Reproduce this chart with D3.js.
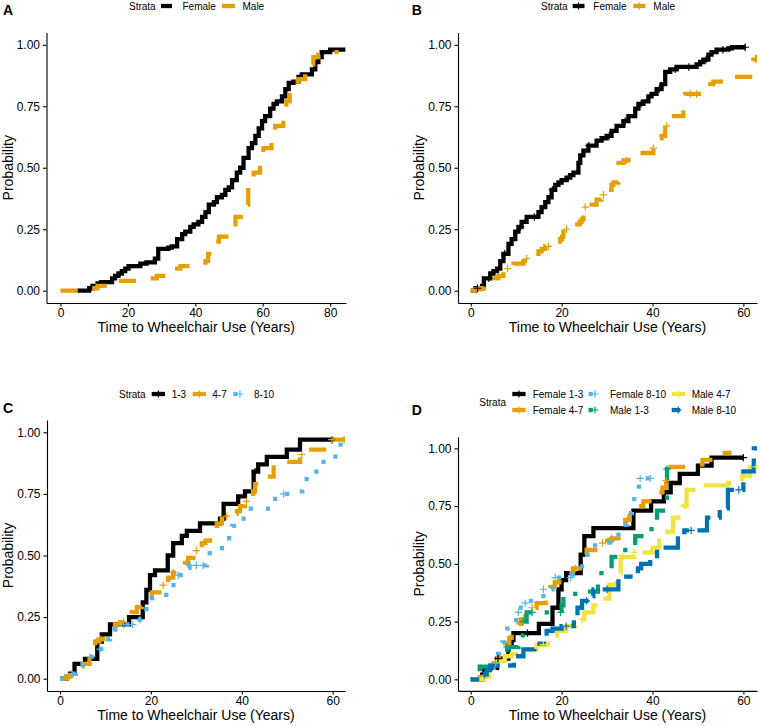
<!DOCTYPE html>
<html><head><meta charset="utf-8">
<script src="https://cdn.jsdelivr.net/npm/d3@7"></script>
<style>
body{margin:0;background:#fff}
svg{display:block}
text{font-family:"Liberation Sans",Arial,Helvetica,sans-serif}
</style>
</head><body>
<svg id="chart" width="760" height="726"></svg>
<script>
// ---------- DATA ----------
const yTicks = [0, 0.25, 0.5, 0.75, 1];
const xTicksA = [0, 20, 40, 60, 80];
const xTicksBCD = [0, 20, 40, 60];

// Panel A
const aFemaleT = [5,8.5,9.5,11,12,15.3,16.2,17.2,18.2,19.2,20.2,23.7,25.5,28,29,32,33,34.6,36.1,37,38.5,39.5,40.9,42,43,44,45.5,46.4,47.9,48.9,49.9,50.9,52.3,53.3,54.3,55.8,56.8,57.8,58.8,59.8,60.7,62.2,63.2,64.2,65.7,66.7,67.7,69.1,70.6,71.6,74.6,75.6,76.5,77.5,80,84.5];
const aFemaleP = [0,0.01,0.02,0.03,0.035,0.05,0.06,0.07,0.08,0.09,0.10,0.11,0.115,0.13,0.17,0.175,0.18,0.21,0.23,0.24,0.26,0.27,0.28,0.30,0.32,0.35,0.36,0.38,0.39,0.41,0.42,0.45,0.48,0.50,0.54,0.58,0.60,0.63,0.66,0.69,0.71,0.74,0.76,0.77,0.79,0.82,0.845,0.85,0.87,0.88,0.90,0.93,0.95,0.97,0.98,0.98];
const aMaleT = [0,9,11,14.8,25.7,28.6,32.6,35.6,43,43.8,46,47,50.2,51.9,54.2,55.7,57.3,59.2,60.2,62.6,63.7,66.1,67,68,69,70.5,72.6,73.6,75,76.5,78,82.5];
const aMaleP = [0,0.01,0.02,0.04,0.05,0.06,0.09,0.10,0.12,0.15,0.20,0.22,0.26,0.30,0.35,0.45,0.48,0.55,0.58,0.63,0.67,0.72,0.77,0.83,0.85,0.86,0.89,0.92,0.95,0.96,0.97,0.97];

// Panel B
const bFemaleT = [0,1,2.5,2.9,4.3,5,5.8,6.5,7.2,8.3,9,9.8,10.5,11.2,12.3,14.9,15.6,16.4,17.1,17.8,18.6,19.3,20,21.1,21.9,22.6,23.7,24.1,24.8,25.9,27.7,28.8,29.9,31,32.1,33.6,34.7,36.2,36.9,38,39.1,39.8,40.9,42,42.8,43.9,45.3,49.7,50.5,51.2,52.3,53,54.1,56.7,57.5,60.4];
const bFemaleP = [0,0.01,0.02,0.05,0.07,0.08,0.09,0.12,0.15,0.19,0.21,0.24,0.26,0.28,0.30,0.32,0.34,0.36,0.38,0.41,0.43,0.44,0.45,0.46,0.47,0.48,0.52,0.55,0.57,0.59,0.61,0.62,0.63,0.65,0.67,0.69,0.71,0.74,0.76,0.77,0.79,0.80,0.82,0.84,0.89,0.90,0.91,0.92,0.93,0.94,0.96,0.97,0.98,0.985,0.99,0.99];
const bFemaleCens = [1.5,4,7.5,11,14,18,21.5,26,30.5,34,37.5,41.5,45,48,51.8,55.5,60.4];
const bMaleT = [0,1,2,2.9,4.3,5.2,6.1,7.2,7.9,8.6,9.4,11.6,12.3,13.4,14.1,14.9,15.6,16.4,17.4,18.2,19.7,20.1,20.4,21.1,22.6,24,24.4,24.8,26.6,27.7,28.8,29.9,31,31.4,32.5,33.6,34.7,36.5,40.2,40.5,40.9,42,42.8,43.2,43.9,46.8,47.2,52,52.7,53.4,56.7,61.5,62.2,63];
const bMaleP = [0,0.005,0.01,0.03,0.04,0.05,0.06,0.08,0.09,0.10,0.11,0.12,0.13,0.14,0.15,0.16,0.17,0.18,0.19,0.20,0.21,0.22,0.24,0.25,0.27,0.28,0.29,0.34,0.35,0.37,0.39,0.41,0.43,0.44,0.52,0.53,0.54,0.56,0.58,0.61,0.62,0.63,0.67,0.70,0.71,0.77,0.80,0.82,0.84,0.85,0.87,0.93,0.94,0.96];
const bMaleCens = [8.1,12.3,17.1,21.1,25.2,29.2,34.3,40.2,43.1,48.3,49.7,62.8];

// Panel C
const c13T = [0,1.5,2.2,3.2,5.5,8.2,9.2,11,15.2,18.2,19,19.8,20.9,23.7,24.9,26.8,27.9,30.8,35.2,36,39.2,40.7,42.6,43.6,45.5,49.9,52.8,60.2];
const c13P = [0,0.01,0.02,0.06,0.08,0.15,0.18,0.22,0.25,0.31,0.36,0.42,0.44,0.50,0.55,0.58,0.60,0.63,0.65,0.71,0.74,0.76,0.84,0.87,0.90,0.93,0.97,0.97];
const c13Cens = [42.9,59.8];
const c47T = [0,1.5,2.5,3.5,5,6.5,7,7.7,8.5,9.5,10.5,12.1,13.2,14.7,15.8,16.9,18,18.7,20.2,22.7,23.8,24.9,25.7,26.4,27.5,28.2,30,31.2,32,33,34.5,35.6,36.7,37.8,38.9,39.6,40.7,41.8,42.5,42.9,44,47,52.8,53.5,59.4,62.7];
const c47P = [0,0.01,0.03,0.05,0.06,0.08,0.10,0.15,0.16,0.18,0.20,0.22,0.23,0.25,0.27,0.29,0.31,0.33,0.35,0.38,0.41,0.43,0.45,0.46,0.47,0.49,0.52,0.55,0.56,0.61,0.63,0.65,0.66,0.67,0.68,0.70,0.72,0.74,0.76,0.79,0.82,0.88,0.91,0.93,0.97,0.97];
const c47Cens = [2,9,14,22.7,24.9,30,36.7,41,53.2,59.8,62.5];
const c810T = [0,1,2,3.5,5,6,7,10,11,12,13,17,18,19,20.3,22.2,24.2,26,27.9,28.5,32.3,34.5,36.3,37.9,39.5,41.2,46.4,49.2,51.5,53.3,55,57.2,60.6,61.2,62.7];
const c810P = [0,0.01,0.02,0.04,0.06,0.09,0.12,0.16,0.18,0.20,0.22,0.24,0.27,0.30,0.33,0.34,0.38,0.42,0.45,0.46,0.51,0.53,0.57,0.62,0.65,0.69,0.73,0.75,0.76,0.81,0.84,0.88,0.93,0.95,0.97];
const c810Cens = [2.6,8.8,14,16,17.6,26,28.6,30,31.5,49.2];

// Panel D
const dF13T = [0,2.5,3,5.8,8.3,9,9.4,15,18,19.3,20,21,24.2,25,27,35.8,39.7,42.5,44,46,50,53,60];
const dF13P = [0,0.02,0.05,0.09,0.15,0.17,0.20,0.24,0.31,0.39,0.43,0.46,0.54,0.62,0.655,0.73,0.77,0.81,0.85,0.89,0.925,0.96,0.96];
const dF13Cens = [6,12.5,60];
const dF47T = [0,2,3,4,5,6,7,8,8.5,9,10.5,11,12,13.5,14.5,16.5,17.5,18.5,19.5,21,22.5,24,25,25.5,28,30,31,32.5,33,34,35,36,37,38,40,41.5,42.2,43,43.5,44,50,51,54,57.4];
const dF47P = [0,0.01,0.03,0.05,0.07,0.09,0.12,0.15,0.18,0.20,0.24,0.26,0.29,0.31,0.33,0.38,0.40,0.42,0.44,0.46,0.48,0.50,0.54,0.56,0.59,0.60,0.61,0.64,0.67,0.69,0.71,0.73,0.75,0.77,0.79,0.81,0.83,0.86,0.90,0.92,0.93,0.95,0.98,0.98];
const dF47Cens = [8,13.5,23,29,31,34.5,43];
const dF810T = [0,2,4,5,6,7,8,9,10,11,12.5,16,18,22.5,24.5,25.7,30.5,32.5,34.5,35.5,37,39.5];
const dF810P = [0,0.02,0.05,0.07,0.11,0.16,0.22,0.24,0.29,0.33,0.34,0.39,0.44,0.46,0.52,0.58,0.60,0.67,0.72,0.78,0.87,0.87];
const dF810Cens = [5.5,10.5,12,16,18.6,22,31,37.3,39.5];
const dM13T = [0,2,6,8,10.5,11.5,12.3,20,20.4,23,28,31,33.3,36.2,38.8,41,42.8,43.2,43.6];
const dM13P = [0,0.055,0.08,0.14,0.19,0.25,0.29,0.32,0.36,0.38,0.46,0.53,0.56,0.62,0.65,0.73,0.77,0.91,0.91];
const dM13Cens = [8,11.5,13.5,19.8,43.2];
const dM47T = [0,3,4,5,6,7.5,9,12,14.5,17,19,21,23,25,27,29,30.5,32,33,36,40,41.5,43.3,44.5,46.7,47.5,49.7,56.6,59.7,61.4,63];
const dM47P = [0,0.01,0.04,0.06,0.08,0.10,0.11,0.13,0.15,0.18,0.21,0.23,0.26,0.29,0.32,0.35,0.41,0.46,0.53,0.55,0.57,0.60,0.64,0.70,0.75,0.82,0.84,0.85,0.88,0.92,0.93];
const dM47Cens = [16,24.5,33.5,36,47,62.8];
const dM810T = [0,2.5,3.5,4.3,9.5,11.6,14,14.6,16.7,18,20,22.7,23.5,24.5,26,27,32.5,36.8,37.5,39.5,41,45.6,47,52,54.8,56.6,60,62.3,63];
const dM810P = [0,0.02,0.04,0.06,0.10,0.13,0.14,0.155,0.21,0.22,0.23,0.27,0.31,0.34,0.36,0.39,0.445,0.48,0.50,0.52,0.57,0.61,0.645,0.70,0.74,0.82,0.90,1.0,1.0];
const dM810Cens = [3,21,25.5,30,48.5,59];

// ---------- STYLE ----------
const COL = {black:"#000000", orange:"#E69F00", sky:"#56B4E9", green:"#009E73", yellow:"#F0E442", blue:"#0072B2"};
const LWD = 4.27;
const LT = {solid:null, dashed:[4,4], dotted:[1,3], dotdash:[1,3,4,3], longdash:[7,3], twodash:[2,2,6,2]};
const dash = k => LT[k] ? LT[k].map(v => v * LWD).join(",") : null;
const FONT = '"Liberation Sans",Arial,Helvetica,sans-serif';

const svg = d3.select("#chart");

function stepVal(ts, ps, t) {
  let v = ps[0];
  for (let i = 0; i < ts.length; i++) { if (ts[i] <= t) v = ps[i]; else break; }
  return v;
}
function plus(g, cx, cy, color, r) {
  r = r || 3.7;
  g.append("path").attr("d", `M${cx - r},${cy}H${cx + r}M${cx},${cy - r}V${cy + r}`)
    .attr("stroke", color).attr("stroke-width", 1.2).attr("fill", "none");
}

const panels = [
  { id: "A", label: [3, 15.3], left: 46.5, right: 346, top: 32.5, bottom: 303, xDom: [-4.15, 84.7], xTicks: xTicksA, yTitleX: 12.8,
    series: [
      { name: "Female", color: COL.black, lt: "solid", t: aFemaleT, p: aFemaleP, cens: [] },
      { name: "Male", color: COL.orange, lt: "dashed", t: aMaleT, p: aMaleP, cens: [] } ],
    legend: { title: [129, 9.6], rows: [6], items: [ { key: [161, 172], tx: 182.5, row: 0, s: 0 }, { key: [222, 235], tx: 242.5, row: 0, s: 1 } ], cross: false } },
  { id: "B", label: [411.7, 15.3], left: 458, right: 757, top: 32.5, bottom: 303, xDom: [-2.8, 63.0], xTicks: xTicksBCD, yTitleX: 423.5,
    series: [
      { name: "Female", color: COL.black, lt: "solid", t: bFemaleT, p: bFemaleP, cens: bFemaleCens },
      { name: "Male", color: COL.orange, lt: "dashed", t: bMaleT, p: bMaleP, cens: bMaleCens } ],
    legend: { title: [541, 9.6], rows: [6], items: [ { key: [572.7, 584.5], tx: 593.3, row: 0, s: 0 }, { key: [633.3, 645.5], tx: 653.3, row: 0, s: 1 } ], cross: true } },
  { id: "C", label: [3, 413], left: 47, right: 345, top: 420, bottom: 691, xDom: [-2.86, 62.7], xTicks: xTicksBCD, yTitleX: 12.8,
    series: [
      { name: "1-3", color: COL.black, lt: "solid", t: c13T, p: c13P, cens: c13Cens },
      { name: "4-7", color: COL.orange, lt: "dashed", t: c47T, p: c47P, cens: c47Cens },
      { name: "8-10", color: COL.sky, lt: "dotted", t: c810T, p: c810P, cens: c810Cens } ],
    legend: { title: [119, 397.6], rows: [394], items: [ { key: [151.7, 165], tx: 171.7, row: 0, s: 0 }, { key: [192.7, 206], tx: 212.3, row: 0, s: 1 }, { key: [233.3, 246.6], tx: 254, row: 0, s: 2 } ], cross: true } },
  { id: "D", label: [411.7, 415], left: 458, right: 757, top: 436.8, bottom: 690.9, xDom: [-2.8, 63.0], xTicks: xTicksBCD, yTitleX: 423.5,
    series: [
      { name: "Female 1-3", color: COL.black, lt: "solid", t: dF13T, p: dF13P, cens: dF13Cens },
      { name: "Female 4-7", color: COL.orange, lt: "dashed", t: dF47T, p: dF47P, cens: dF47Cens },
      { name: "Female 8-10", color: COL.sky, lt: "dotted", t: dF810T, p: dF810P, cens: dF810Cens },
      { name: "Male 1-3", color: COL.green, lt: "dotdash", t: dM13T, p: dM13P, cens: dM13Cens },
      { name: "Male 4-7", color: COL.yellow, lt: "longdash", t: dM47T, p: dM47P, cens: dM47Cens },
      { name: "Male 8-10", color: COL.blue, lt: "twodash", t: dM810T, p: dM810P, cens: dM810Cens } ],
    legend: { title: [479.3, 406.2], rows: [394, 410], items: [
      { key: [512.3, 525.6], tx: 532.7, row: 0, s: 0 }, { key: [512.3, 525.6], tx: 532.7, row: 1, s: 1 },
      { key: [588.5, 601.5], tx: 610, row: 0, s: 2 }, { key: [588.5, 601.5], tx: 610, row: 1, s: 3 },
      { key: [671.7, 685], tx: 691.7, row: 0, s: 4 }, { key: [671.7, 685], tx: 691.7, row: 1, s: 5 } ], cross: true } }
];

panels.forEach((P, pi) => {
  const g = svg.append("g");
  const x = d3.scaleLinear().domain(P.xDom).range([P.left, P.right]);
  const y = d3.scaleLinear().domain([-0.05, 1.05]).range([P.bottom, P.top]);
  const clipId = "clip" + P.id;
  svg.append("clipPath").attr("id", clipId).append("rect")
    .attr("x", P.left).attr("y", P.top).attr("width", P.right - P.left).attr("height", P.bottom - P.top);

  const line = d3.line().x(d => x(d[0])).y(d => y(d[1])).curve(d3.curveStepAfter);
  const plot = g.append("g").attr("clip-path", `url(#${clipId})`);
  P.series.forEach(s => {
    const pts = s.t.map((t, i) => [t, s.p[i]]);
    plot.append("path").attr("d", line(pts)).attr("fill", "none")
      .attr("stroke", s.color).attr("stroke-width", LWD)
      .attr("stroke-dasharray", dash(s.lt))
      .attr("stroke-linecap", "butt").attr("stroke-linejoin", "miter");
  });
  P.series.forEach(s => {
    s.cens.forEach(ct => plus(plot, x(ct), y(stepVal(s.t, s.p, ct)), s.color));
  });

  // axes
  const ay = g.append("g").attr("transform", `translate(${P.left},0)`)
    .call(d3.axisLeft(y).tickValues(yTicks).tickFormat(d3.format(".2f")).tickSizeInner(3.5).tickSizeOuter(0).tickPadding(3));
  const ax = g.append("g").attr("transform", `translate(0,${P.bottom})`)
    .call(d3.axisBottom(x).tickValues(P.xTicks).tickFormat(d3.format("d")).tickSizeInner(3.5).tickSizeOuter(0).tickPadding(2));
  [ay, ax].forEach(a => {
    a.attr("font-family", FONT).attr("font-size", 12);
    a.select(".domain").attr("stroke", "#000").attr("stroke-width", 1.1);
    a.selectAll(".tick line").attr("stroke", "#000").attr("stroke-width", 1.1);
    a.selectAll(".tick text").attr("fill", "#000").attr("font-size", 12);
  });

  // titles
  g.append("text").attr("x", (P.left + P.right) / 2).attr("y", P.bottom + 29)
    .attr("text-anchor", "middle").attr("font-size", 14).attr("fill", "#000")
    .text("Time to Wheelchair Use (Years)");
  g.append("text").attr("transform", `translate(${P.yTitleX},${(P.top + P.bottom) / 2}) rotate(-90)`)
    .attr("text-anchor", "middle").attr("font-size", 14).attr("fill", "#000").text("Probability");
  g.append("text").attr("x", P.label[0]).attr("y", P.label[1]).attr("font-size", 14)
    .attr("font-weight", "bold").attr("fill", "#000").text(P.id);

  // legend
  const L = P.legend;
  g.append("text").attr("x", L.title[0]).attr("y", L.title[1]).attr("font-size", 10).attr("fill", "#000").text("Strata");
  L.items.forEach(it => {
    const s = P.series[it.s];
    const cy = L.rows[it.row];
    g.append("line").attr("x1", it.key[0]).attr("x2", it.key[1]).attr("y1", cy).attr("y2", cy)
      .attr("stroke", s.color).attr("stroke-width", LWD).attr("stroke-dasharray", dash(s.lt)).attr("stroke-linecap", "butt");
    if (L.cross) plus(g, (it.key[0] + it.key[1]) / 2, cy, s.color, 3.5);
    g.append("text").attr("x", it.tx).attr("y", cy + 3.6).attr("font-size", 10).attr("fill", "#000").text(s.name);
  });
});
</script>
</body></html>
